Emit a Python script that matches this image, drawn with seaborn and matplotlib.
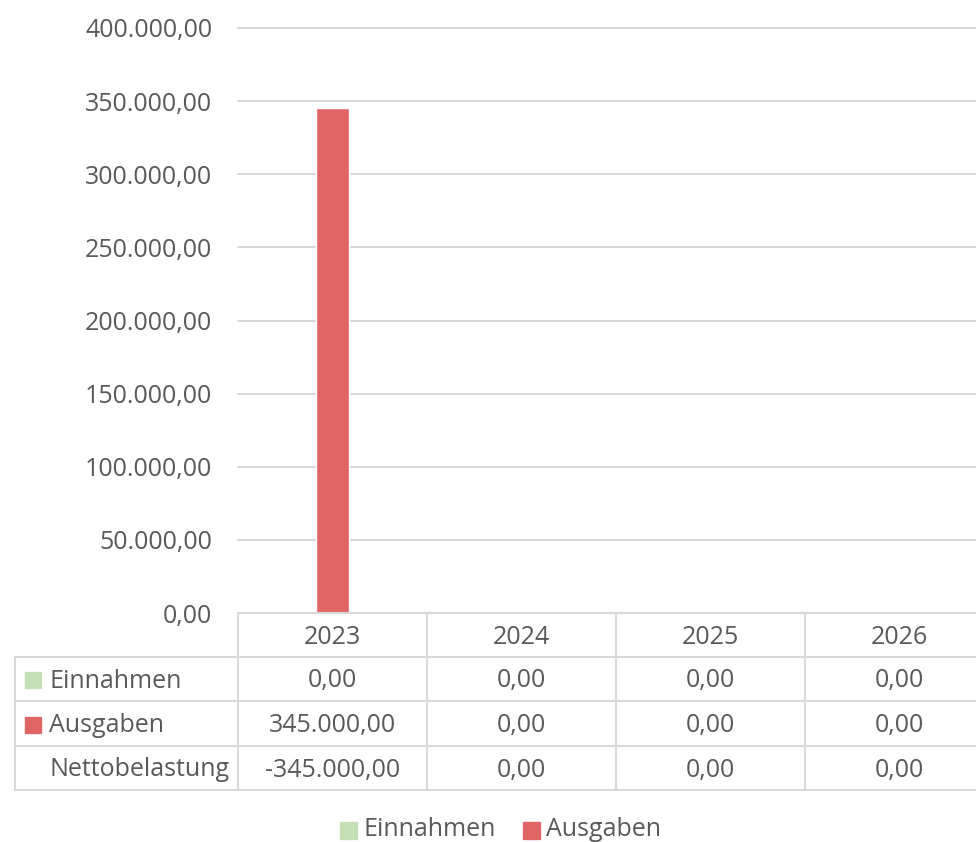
import pandas as pd
import matplotlib.pyplot as plt
import seaborn as sns
from matplotlib.ticker import FuncFormatter
from matplotlib.patches import Rectangle

years = ['2023', '2024', '2025', '2026']
einnahmen = [0, 0, 0, 0]
ausgaben = [345000, 0, 0, 0]
netto = [-345000, 0, 0, 0]
series = ['Einnahmen', 'Ausgaben']
colors = {'Einnahmen': '#C5E0B4', 'Ausgaben': '#E06666'}

def de(v, pos=None):
    s = f'{v:,.2f}'
    return s.replace(',', 'X').replace('.', ',').replace('X', '.')

df = pd.DataFrame({
    'Jahr': years * 2,
    'Serie': ['Einnahmen'] * 4 + ['Ausgaben'] * 4,
    'Wert': einnahmen + ausgaben,
})

sns.set_theme(style='white')
plt.rcParams['font.family'] = ['Open Sans', 'DejaVu Sans']
txt = '#595959'
grid = '#D9D9D9'
fs = 18

W, H = 976, 842
fig = plt.figure(figsize=(W / 100, H / 100), dpi=100)
ax = fig.add_axes([238 / W, 1 - 613 / H, 1 - 238 / W, (613 - 28) / H])

sns.barplot(data=df, x='Jahr', y='Wert', hue='Serie', palette=colors,
            dodge=False, width=0.175, ax=ax, legend=False, saturation=1)
ax.set_ylim(0, 400000)
ax.set_xlim(-0.5, -0.5 + (W - 238) / 189)
ax.set_yticks(range(0, 400001, 50000))
ax.yaxis.set_major_formatter(FuncFormatter(de))
ax.tick_params(axis='y', length=0, pad=18.5, labelsize=fs, labelcolor=txt)
ax.set_xticks([])
ax.set_xlabel('')
ax.set_ylabel('')
ax.grid(axis='y', color=grid, lw=1.5)
for gl in ax.get_ygridlines():
    gl.set_clip_on(False)
ax.set_axisbelow(True)
for s in ax.spines.values():
    s.set_visible(False)

# overlay in pixel coordinates for the data table and legend
ov = fig.add_axes([0, 0, 1, 1], facecolor='none')
ov.set_xlim(0, W)
ov.set_ylim(H, 0)
ov.axis('off')

def px(i):
    return ax.transData.transform((i, 0))[0]

bounds = [px(i - 0.5) for i in range(len(years) + 1)]
rows = [613, 657, 701, 746, 790]
lw = 1.5
ov.plot([bounds[0], W], [rows[0]] * 2, color=grid, lw=lw)
for r in rows[1:]:
    ov.plot([15, W], [r, r], color=grid, lw=lw)
ov.plot([15, 15], [rows[1], rows[-1]], color=grid, lw=lw)
for b in bounds:
    ov.plot([b, b], [rows[0], rows[-1]], color=grid, lw=lw)

dy = 2
for i, y in enumerate(years):
    ov.text(px(i), (rows[0] + rows[1]) / 2 + dy, y, ha='center', va='center', fontsize=fs, color=txt)

table_rows = [('Einnahmen', einnahmen, colors['Einnahmen']),
              ('Ausgaben', ausgaben, colors['Ausgaben']),
              ('Nettobelastung', netto, None)]
for k, (name, vals, c) in enumerate(table_rows):
    yc = (rows[k + 1] + rows[k + 2]) / 2
    if c:
        ov.add_patch(Rectangle((25, yc - 7), 16, 16, color=c))
    ov.text(49, yc + dy, name, ha='left', va='center', fontsize=fs, color=txt)
    for i, v in enumerate(vals):
        ov.text(px(i), yc + dy, de(v), ha='center', va='center', fontsize=fs, color=txt)

# legend
ly = 830
ov.add_patch(Rectangle((340, ly - 8), 17, 17, color=colors['Einnahmen']))
ov.text(363, ly, 'Einnahmen', ha='left', va='center', fontsize=fs, color=txt)
ov.add_patch(Rectangle((523, ly - 8), 17, 17, color=colors['Ausgaben']))
ov.text(546, ly, 'Ausgaben', ha='left', va='center', fontsize=fs, color=txt)

plt.savefig('out.png', dpi=100)
